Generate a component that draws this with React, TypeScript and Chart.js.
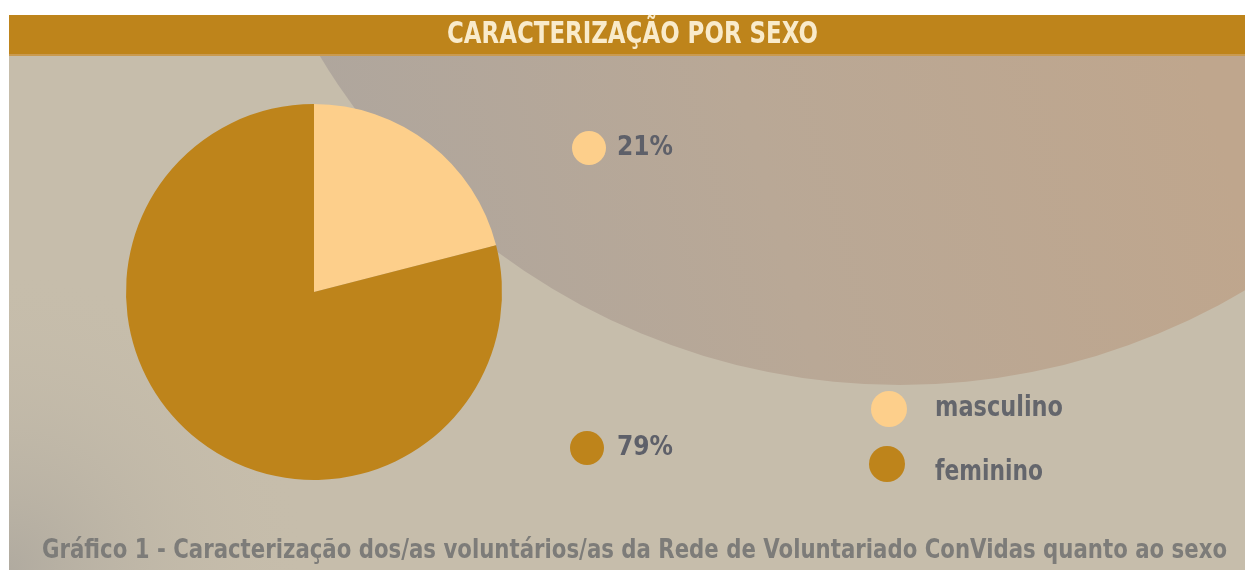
import React, { useEffect, useRef } from "react";
import { Chart, registerables } from "chart.js";

Chart.register(...registerables);

const title = "CARACTERIZAÇÃO POR SEXO";
const caption = "Gráfico 1 - Caracterização dos/as voluntários/as da Rede de Voluntariado ConVidas quanto ao sexo";
const categories = ["masculino", "feminino"];
const values = [21, 79];
const colors = ["#FDCF8B", "#BE841B"];

function fitText(ctx: CanvasRenderingContext2D, text: string, x: number, y: number, w: number, font: string, color: string) {
  ctx.save();
  ctx.font = font;
  ctx.fillStyle = color;
  ctx.textBaseline = "middle";
  ctx.textAlign = "left";
  const m = ctx.measureText(text).width;
  ctx.translate(x, y);
  ctx.scale(w / m, 1);
  ctx.fillText(text, 0, 0);
  ctx.restore();
}

const decor = {
  id: "decor",
  beforeDraw(chart: any) {
    const ctx: CanvasRenderingContext2D = chart.ctx;
    const W = chart.width, H = chart.height;
    ctx.save();
    ctx.fillStyle = "#ffffff";
    ctx.fillRect(0, 0, W, H);
    ctx.fillStyle = "#C6BDAB";
    ctx.fillRect(9, 15, W - 9, H - 15);
    const vg = ctx.createRadialGradient(9, 570, 0, 9, 570, 300);
    vg.addColorStop(0, "rgba(155,152,148,0.5)");
    vg.addColorStop(1, "rgba(198,189,171,0)");
    ctx.fillStyle = vg;
    ctx.fillRect(9, 15, W - 9, H - 15);
    ctx.beginPath();
    ctx.rect(9, 55, W - 9, H - 55);
    ctx.clip();
    const g = ctx.createLinearGradient(330, 300, 1200, 60);
    g.addColorStop(0, "#AEA69E");
    g.addColorStop(0.5, "#B9A896");
    g.addColorStop(1, "#BFA68D");
    ctx.fillStyle = g;
    ctx.beginPath();
    ctx.arc(900, -291, 676, 0, Math.PI * 2);
    ctx.fill();
    ctx.restore();
    ctx.save();
    ctx.fillStyle = "#BE841B";
    ctx.fillRect(9, 15, W - 9, 40);
    ctx.fillStyle = "#C99A50";
    ctx.fillRect(9, 54, W - 9, 2);
    fitText(ctx, title, 447, 35, 371, "bold 31px 'DejaVu Sans'", "#F9EBCB");
    fitText(ctx, caption, 42, 551, 1185, "bold 27px 'DejaVu Sans'", "#7D7C79");
    ctx.restore();
  },
  afterDraw(chart: any) {
    const ctx: CanvasRenderingContext2D = chart.ctx;
    const ds = chart.data.datasets[0];
    const vals: number[] = ds.data;
    const total = vals.reduce((a, b) => a + b, 0);
    const labelPos = [[589, 148], [587, 448]];
    const legendPos = [[889, 409], [887, 464]];
    const legendTextY = [408, 472];
    ctx.save();
    vals.forEach((v, i) => {
      ctx.fillStyle = ds.backgroundColor[i];
      ctx.beginPath();
      ctx.arc(labelPos[i][0], labelPos[i][1], 17, 0, Math.PI * 2);
      ctx.fill();
      fitText(ctx, Math.round((v / total) * 100) + "%", 617, labelPos[i][1], 56, "bold 27px 'DejaVu Sans'", "#5E6069");
      ctx.fillStyle = ds.backgroundColor[i];
      ctx.beginPath();
      ctx.arc(legendPos[i][0], legendPos[i][1], 18, 0, Math.PI * 2);
      ctx.fill();
      const lbl = chart.data.labels[i];
      fitText(ctx, lbl, 935, legendTextY[i], i === 0 ? 128 : 108, "bold 29px 'DejaVu Sans'", "#64666C");
    });
    ctx.restore();
  },
};

export default function App() {
  const ref = useRef<HTMLCanvasElement>(null);
  useEffect(() => {
    if (!ref.current) return;
    const chart = new Chart(ref.current, {
      type: "pie",
      data: {
        labels: categories,
        datasets: [{ data: values, backgroundColor: colors, borderWidth: 0 }],
      },
      options: {
        animation: false,
        responsive: false,
        devicePixelRatio: 1,
        layout: { padding: { left: 126, top: 104, right: 743, bottom: 90 } },
        plugins: { legend: { display: false }, tooltip: { enabled: false }, title: { display: false } },
      },
      plugins: [decor],
    });
    return () => chart.destroy();
  }, []);
  return (
    <div style={{ position: "fixed", left: 0, top: 0, width: 1245, height: 570 }}>
      <canvas ref={ref} width={1245} height={570} style={{ width: 1245, height: 570, display: "block" }} />
    </div>
  );
}
